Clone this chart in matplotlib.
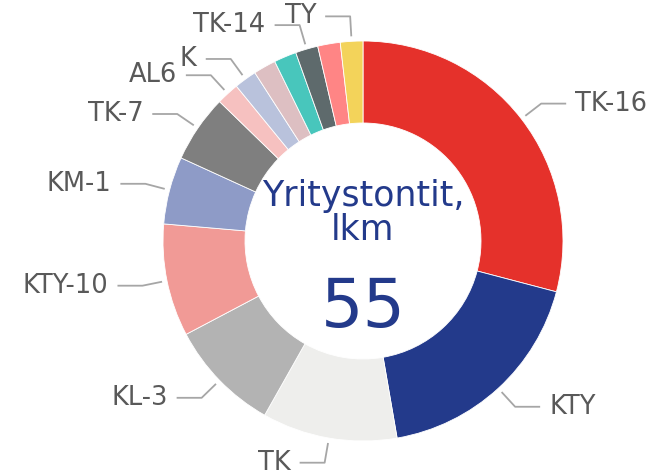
import numpy as np
import matplotlib
matplotlib.use("Agg")
import matplotlib.pyplot as plt

# data (clockwise from 12 o'clock)
labels = ["TK-16", "KTY", "TK", "KL-3", "KTY-10", "KM-1", "TK-7",
          "AL6", "K", "", "", "TK-14", "", "TY"]
values = [16, 10, 6, 5, 5, 3, 3, 1, 1, 1, 1, 1, 1, 1]
colors = ["#E5312B", "#233A8B", "#EEEEEC", "#B3B3B3", "#F19A96", "#8E9BC7",
          "#7F7F7F", "#F6C1C0", "#B9C2DC", "#DDBFC2", "#48C6BC", "#5E6A6C",
          "#FF8585", "#F3D35A"]
title = "Yritystontit,\nlkm"
total = sum(values)

W, H = 650, 474
cx, cy = 363, 241
R = 200

fig = plt.figure(figsize=(W / 100, H / 100), dpi=100)
ax = fig.add_axes([0, 0, 1, 1])

wedges, _ = ax.pie(values, colors=colors, radius=R, startangle=90,
                   counterclock=False,
                   wedgeprops=dict(width=R * 0.41, edgecolor="white", linewidth=0.6))

# pixel-like data units, set after pie (pie resets the limits)
ax.set_xlim(-cx, W - cx)
ax.set_ylim(-(H - cy), cy)
ax.set_aspect("equal")
ax.axis("off")

line_col = "#A6A6A6"
for w, lab in zip(wedges, labels):
    if not lab:
        continue
    ang = np.deg2rad((w.theta1 + w.theta2) / 2)
    x0, y0 = 205 * np.cos(ang), 205 * np.sin(ang)
    x1, y1 = 225 * np.cos(ang), 225 * np.sin(ang)
    side = 1 if x1 >= 0 else -1
    x2 = x1 + side * 25
    ax.plot([x0, x1, x2], [y0, y1, y1], color=line_col, lw=1.3,
            solid_capstyle="butt")
    ax.text(x2 + side * 9, y1, lab, ha="left" if side > 0 else "right",
            va="center", fontsize=18.5, color="#595959")

ax.text(0, 28, title, ha="center", va="center", fontsize=25,
        color="#233A8B", linespacing=1.0)
ax.text(0, -67, str(total), ha="center", va="center", fontsize=48,
        color="#233A8B")

fig.savefig("out.png", dpi=100)
